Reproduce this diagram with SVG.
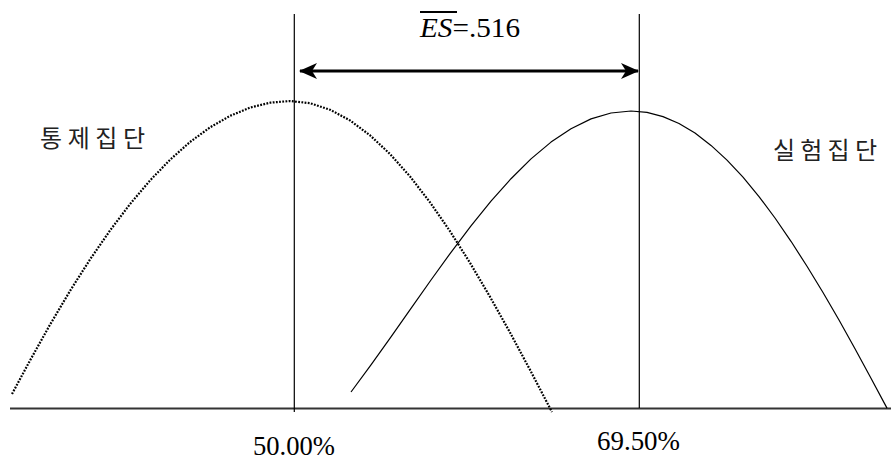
<svg xmlns="http://www.w3.org/2000/svg" width="891" height="461" viewBox="0 0 891 461">
  <style>
    .guide { stroke: #000; stroke-width: 1.2; fill: none; }
    .axis { stroke: #333; stroke-width: 2; fill: none; }
    .curve { stroke: #000; stroke-width: 1.2; fill: none; stroke-linejoin: round; }
    .dotted { stroke: #000; stroke-width: 2.2; fill: none; stroke-dasharray: 1.8 1.4; stroke-linejoin: round; }
    .kr { font-family: "Noto Sans CJK KR", "Noto Sans", sans-serif; font-size: 24px; fill: #222; }
    .num { font-family: "Liberation Serif", "DejaVu Serif", serif; font-size: 28px; fill: #000; }
  </style>
  <defs>
    <marker id="ah" viewBox="0 0 18 16" refX="17" refY="8" markerWidth="18" markerHeight="16" markerUnits="userSpaceOnUse" orient="auto-start-reverse">
      <path d="M0,0 L18,8 L0,16 L5,8 Z" fill="#000"/>
    </marker>
  </defs>
  <rect width="891" height="461" fill="#fff"/>

  <g id="connectors">
    <line id="axis" class="axis" x1="10" y1="408.5" x2="891" y2="408.5"/>
    <line id="mean-control" class="guide" x1="294.3" y1="14" x2="294.3" y2="412"/>
    <line id="mean-experimental" class="guide" x1="639.3" y1="14" x2="639.3" y2="408"/>
    <line id="es-arrow" x1="300" y1="71" x2="638" y2="71" stroke="#000" stroke-width="3" marker-start="url(#ah)" marker-end="url(#ah)"/>
  </g>

  <g id="control-curve">
    <path class="dotted" d="M12,394 L30,360.5 L50,324.7 L70,290.9 L90,259.5 L110,230.5 L130,204.1 L150,180.5 L170,159.8 L190,142 L210,127.4 L230,115.9 L250,107.6 L270,102.7 L290,101 L310,103.2 L330,109.7 L350,120.4 L370,135.3 L390,154 L410,176.4 L430,202.3 L450,231.2 L470,262.8 L490,296.8 L510,332.5 L530,369.8 L552,412.1"/>
  </g>

  <g id="experimental-curve">
    <path class="curve" d="M351,392 L371,364.9 L391,336.8 L411,308.3 L431,280 L451,252.3 L471,225.9 L491,201.2 L511,178.7 L531,158.9 L551,142.1 L571,128.7 L591,118.9 L611,113 L631,111 L647,112.4 L663,116.6 L679,123.5 L695,133.1 L711,145.4 L727,160.1 L743,177.2 L759,196.6 L775,218 L791,241.3 L807,266.3 L823,292.5 L839,320 L855,348.8 L871,378.2 L887,408.1"/>
  </g>

  <g id="es-label">
    <line x1="420" y1="12" x2="457" y2="12" stroke="#000" stroke-width="2"/>
    <text class="num" x="420" y="37" font-size="26" textLength="100" lengthAdjust="spacingAndGlyphs"><tspan font-style="italic">ES</tspan>=.516</text>
  </g>

  <g id="control-label">
    <text class="kr" x="40" y="147" textLength="105" lengthAdjust="spacing">통제집단</text>
  </g>

  <g id="experimental-label">
    <text class="kr" x="773" y="159" textLength="104" lengthAdjust="spacing">실험집단</text>
  </g>

  <g id="label-50">
    <text class="num" x="253" y="455" textLength="82" lengthAdjust="spacingAndGlyphs">50.00%</text>
  </g>

  <g id="label-69">
    <text class="num" x="597" y="450" textLength="83" lengthAdjust="spacingAndGlyphs">69.50%</text>
  </g>
</svg>
